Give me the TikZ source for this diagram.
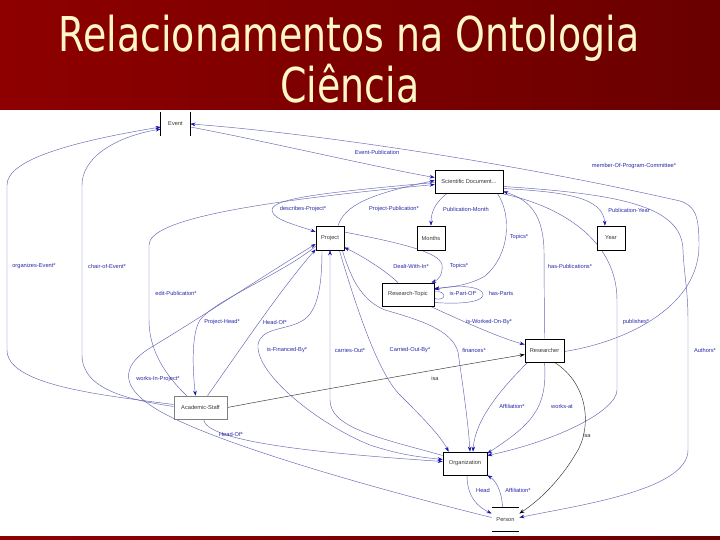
\documentclass[tikz,border=0pt]{standalone}
\usepackage{fontspec}
\setmainfont{Liberation Sans}
\newfontfamily\titlefont{DejaVu Sans}
\usetikzlibrary{calc,arrows.meta}
\definecolor{barL}{RGB}{142,0,0}
\definecolor{barR}{RGB}{106,0,0}
\definecolor{titletext}{RGB}{255,247,200}
\definecolor{edgec}{RGB}{100,100,182}
\definecolor{tipc}{RGB}{20,20,175}
\definecolor{lblc}{RGB}{40,40,170}
\definecolor{isac}{RGB}{50,50,50}
\pgfdeclarelayer{edges}
\pgfsetlayers{edges,main}
\begin{document}
\begin{tikzpicture}[x=1pt,y=-1pt,
  box/.style={draw=black,line width=0.7pt,fill=white,inner sep=0pt,
    font=\fontsize{5.7}{6.5}\selectfont,text=black!78},
  lbl/.style={inner sep=0pt,font=\fontsize{5.7}{6.5}\selectfont,text=lblc},
  rel/.style={draw=edgec,line width=0.45pt,-{Stealth[length=5pt,width=3.6pt,color=tipc]}},
  plainrel/.style={draw=edgec,line width=0.45pt},
  isarel/.style={draw=isac,line width=0.45pt,-{Stealth[length=5pt,width=3.6pt,color=black]}},
  ttl/.style={anchor=base,inner sep=0pt,text=titletext,font=\titlefont\fontsize{48}{50}\selectfont}
]
\useasboundingbox (0,0) rectangle (720,540);
\begin{pgfonlayer}{edges}
\fill[white] (0,0) rectangle (720,540);
\end{pgfonlayer}

% ---------- nodes ----------
\node[box,draw=none,fill=none,minimum width=29pt,minimum height=24pt] (ev) at (175.5,124) {Event};
\draw[line width=0.7pt] (ev.north west) -- (ev.south west) (ev.north east) -- (ev.south east);
\node[box,minimum width=68pt,minimum height=23pt] (sd) at (469,181.5) {Scientific Document...};
\node[box,minimum width=28pt,minimum height=24pt] (proj) at (330,238) {Project};
\node[box,minimum width=28pt,minimum height=24pt] (mon) at (431,238) {Months};
\node[box,minimum width=28pt,minimum height=24pt] (year) at (611,238) {Year};
\node[box,minimum width=52pt,minimum height=23pt] (rt) at (408,294.5) {Research-Topic};
\node[box,minimum width=39pt,minimum height=23pt] (res) at (544.5,350.5) {Researcher};
\node[box,draw=gray,minimum width=53pt,minimum height=23pt] (as) at (200.5,407.5) {Academic-Staff};
\node[box,minimum width=44pt,minimum height=23pt] (org) at (465,463.5) {Organization};
\node[box,draw=none,minimum width=27pt,minimum height=23pt] (per) at (505.5,519.5) {Person};
\draw[line width=0.7pt] (per.north west) -- (per.north east) (per.south west) -- (per.south east);

% ---------- connectors ----------
\begin{pgfonlayer}{edges}
\draw[rel] ($(as.west)+(0,-3)$) .. controls (100,395) and (7,385) .. (7,350) -- (7,185) .. controls (7,160) and (70,142) .. ($(ev.west)+(0,3)$);
\draw[rel] ($(as.west)+(0,-1)$) .. controls (130,400) and (82,390) .. (82,355) -- (82,185) .. controls (82,160) and (110,138) .. ($(ev.west)+(0,5)$);
\draw[rel] ($(as.north west)+(13,0)$) .. controls (165,375) and (149,350) .. (149,320) -- (149,245) .. controls (149,220) and (250,202) .. ($(sd.west)+(0,3)$);
\draw[rel] ($(ev.east)+(0,3)$) .. controls (260,140) and (380,168) .. ($(sd.west)+(0,-4)$);
\draw[rel] ($(res.east)+(0,1)$) .. controls (620,343) and (699,310) .. (699,245) .. controls (699,215) and (695,206) .. (680,201) .. controls (500,160) and (300,132) .. (ev.east);
\draw[rel] ($(sd.east)+(0,5)$) .. controls (620,194) and (682,206) .. (683,250) .. controls (684,275) and (688,290) .. (688,320) -- (688,450) .. controls (688,490) and (580,505) .. ($(per.east)+(0,-2)$);
\draw[rel] ($(sd.east)+(0,7)$) .. controls (565,192) and (603,197) .. ($(year.north)+(-6,0)$);
\draw[rel] (res.north) -- (544,250) .. controls (543,215) and (530,200) .. ($(sd.east)+(0,10)$);
\draw[rel] ($(sd.south east)+(-3,0)$) .. controls (560,205) and (617,240) .. (617,300) -- (617,390) .. controls (617,410) and (560,440) .. ($(org.east)+(0,-8)$);
\draw[rel] ($(sd.south)+(-22,0)$) .. controls (435,203) and (431,212) .. (mon.north);
\draw[rel] ($(sd.south east)+(-6,0)$) .. controls (512,215) and (510,255) .. (485,276) .. controls (470,285) and (452,287) .. ($(rt.east)+(0,-6)$);
\draw[rel] ($(proj.east)+(0,-6)$) .. controls (400,243) and (440,252) .. (442,265) .. controls (443,275) and (438,280) .. ($(rt.north east)+(-3,0)$);
\draw[rel] ($(rt.north)+(-10,0)$) .. controls (385,270) and (362,256) .. ($(proj.south east)+(0,-3)$);
\draw[rel] ($(rt.south east)+(-4,0)$) .. controls (460,320) and (500,338) .. ($(res.west)+(0,-6)$);
\draw[rel] ($(rt.east)+(0,8)$) .. controls (470,305) and (484,300) .. (483,294) .. controls (482,287) and (460,284) .. ($(rt.east)+(0,-5)$);
\draw[plainrel] ($(rt.east)+(0,-3)$) .. controls (447,290) and (447,302) .. ($(rt.east)+(0,4)$);
\draw[rel] ($(proj.south west)+(0,-4)$) .. controls (280,275) and (215,300) .. (200,320) .. controls (192,332) and (192,365) .. ($(as.north)+(-5,0)$);
\draw[rel] ($(as.north)+(7,0)$) .. controls (240,350) and (280,290) .. ($(proj.south west)+(0,-1)$);
\draw[rel] ($(per.west)+(0,-2)$) .. controls (380,490) and (200,440) .. (150,405) .. controls (125,388) and (118,368) .. (150,348) .. controls (200,318) and (265,275) .. ($(proj.west)+(0,6)$);
\draw[rel] ($(as.south)+(3,0)$) .. controls (206,440) and (300,452) .. ($(org.west)+(0,-2)$);
\draw[isarel] (as.east) .. controls (320,390) and (450,367) .. ($(res.west)+(0,4)$);
\draw[isarel] ($(res.south)+(10,0)$) .. controls (590,385) and (592,430) .. (575,455) .. controls (560,480) and (540,500) .. ($(per.east)+(0,-6)$);
\draw[rel] (res.south) .. controls (548,410) and (530,425) .. ($(org.east)+(0,-10)$);
\draw[rel] ($(res.south west)+(3,0)$) .. controls (500,390) and (475,420) .. ($(org.north)+(8,0)$);
\draw[rel] ($(proj.south east)+(-2,0)$) .. controls (350,275) and (360,300) .. (385,310) .. controls (420,320) and (452,330) .. (458,352) .. controls (462,380) and (468,420) .. ($(org.north)+(5,0)$);
\draw[rel] ($(proj.south east)+(-5,0)$) .. controls (360,320) and (380,375) .. (400,395) .. controls (420,415) and (440,435) .. ($(org.north west)+(6,0)$);
\draw[rel] ($(org.west)+(0,-8)$) .. controls (380,438) and (330,428) .. (330,400) -- (proj.south);
\draw[rel] ($(proj.south)+(-8,0)$) .. controls (322,295) and (315,315) .. (300,322) .. controls (285,330) and (260,328) .. (258,345) .. controls (256,375) and (320,425) .. (370,445) .. controls (400,455) and (420,457) .. ($(org.west)+(0,-4)$);
\draw[rel] ($(org.south)+(2,0)$) .. controls (467,497) and (478,507) .. ($(per.west)+(0,-6)$);
\draw[rel] ($(per.north)+(-3,0)$) .. controls (502,490) and (495,480) .. (org.south east);
\draw[rel] ($(sd.west)+(0,1)$) .. controls (330,192) and (272,198) .. (272,210) .. controls (272,220) and (300,226) .. ($(proj.west)+(0,-6)$);
\draw[rel] ($(proj.north)+(8,0)$) .. controls (345,205) and (370,194) .. ($(sd.west)+(0,-1)$);
\end{pgfonlayer}

% ---------- labels ----------
\node[lbl] (l1) at (377,152) {Event-Publication};
\node[lbl] (l2) at (634,166) {member-Of-Program-Committee*};
\node[lbl] (l3) at (303,209) {describes-Project*};
\node[lbl] (l4) at (394,209) {Project-Publication*};
\node[lbl] (l5) at (466,209) {Publication-Month};
\node[lbl] (l6) at (629,210) {Publication-Year};
\node[lbl] (l7) at (519,237) {Topics*};
\node[lbl] (l8) at (34,266) {organizes-Event*};
\node[lbl] (l9) at (107,266) {chair-of-Event*};
\node[lbl] (l10) at (411,266) {Dealt-With-In*};
\node[lbl] (l11) at (459,266) {Topics*};
\node[lbl] (l12) at (570,266) {has-Publications*};
\node[lbl] (l13) at (176,293) {edit-Publication*};
\node[lbl] (l14) at (463,293) {is-Part-Of*};
\node[lbl] (l15) at (501,293) {has-Parts};
\node[lbl] (l16) at (222,322) {Project-Head*};
\node[lbl] (l17) at (275,322) {Head-Of*};
\node[lbl] (l18) at (489,322) {is-Worked-On-By*};
\node[lbl] (l19) at (636,322) {publishes*};
\node[lbl] (l20) at (287,350) {is-Financed-By*};
\node[lbl] (l21) at (350,350) {carries-Out*};
\node[lbl] (l22) at (410,350) {Carried-Out-By*};
\node[lbl] (l23) at (474,350) {finances*};
\node[lbl] (l24) at (705,350) {Authors*};
\node[lbl] (l25) at (158,379) {works-In-Project*};
\node[lbl,text=black!80] (l26) at (435,378) {isa};
\node[lbl] (l27) at (512,406) {Affiliation*};
\node[lbl] (l28) at (562,406) {works-at};
\node[lbl,text=black!80] (l29) at (587,435) {isa};
\node[lbl] (l30) at (231,434) {Head-Of*};
\node[lbl] (l31) at (483,490) {Head};
\node[lbl] (l32) at (518,490) {Affiliation*};

% ---------- title bars ----------
\shade[left color=barL,right color=barR] (0,0) rectangle (720,110);
\shade[left color=barL,right color=barR] (0,536) rectangle (720,540);
\node[ttl] (t1) at (349,52) {\scalebox{0.79}[1]{Relacionamentos na Ontologia}};
\node[ttl] (t2) at (350,103) {\scalebox{0.79}[1]{Ciência}};
\end{tikzpicture}
\end{document}
